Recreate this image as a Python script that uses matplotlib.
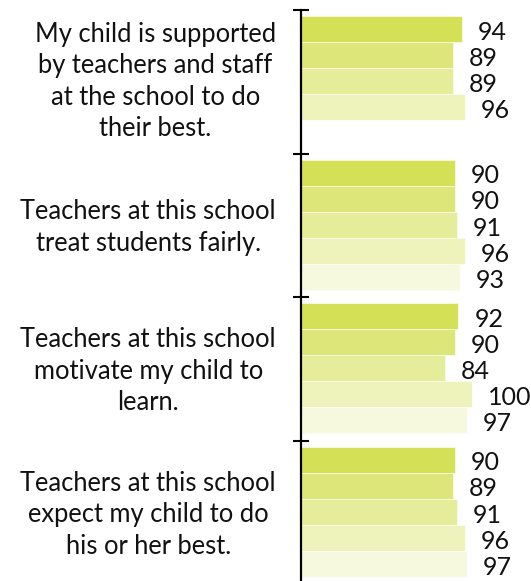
import matplotlib.pyplot as plt

# Вопросы анкеты и проценты положительных ответов
questions = ['My child is supported\nby teachers and staff\nat the school to do\ntheir best.',
             'Teachers at this school\ntreat students fairly.',
             'Teachers at this school\nmotivate my child to\nlearn.',
             'Teachers at this school\nexpect my child to do\nhis or her best.']
values_q1 = [94, 89, 89, 96]
values_q2 = [90, 90, 91, 96, 93]
values_q3 = [92, 90, 84, 100, 97]
values_q4 = [90, 89, 91, 96, 97]
all_values = [values_q1, values_q2, values_q3, values_q4]

# Цвета столбиков (от насыщенного к светлому)
bar_colors = ['#d4e157', '#dde779', '#e5ed9a', '#eef3bc', '#f6f9dd']

plt.rcParams['font.family'] = ['Lato', 'DejaVu Sans']

W, H = 531, 581
px = 1 / 100
fig = plt.figure(figsize=(W * px, H * px), dpi=100)
# Ось: левая граница на x=301 px, 0..100 занимает 171 px
ax = fig.add_axes([301 / W, (H - 584) / H, 171 / W, 574 / H])

bar_h = 0.1815
top_pad = 0.042
# небольшой сдвиг подписей вопросов по вертикали (в пунктах)
label_dy = [0.2, -1.8, -1.8, -1.8]

for g, vals in enumerate(all_values):
    for j, v in enumerate(vals):
        y = g + top_pad + j * bar_h + bar_h / 2
        ax.barh(y, v, height=bar_h, left=0, color=bar_colors[j],
                edgecolor='white', linewidth=0.4)
        ax.annotate(str(v), xy=(v, y), xytext=(11.5, -1), textcoords='offset points',
                    ha='left', va='center_baseline', fontsize=18, color='#111111',
                    annotation_clip=False)
    # Подпись вопроса слева от оси
    ax.annotate(questions[g], xy=(0, g + 0.5), xytext=(-18, label_dy[g]),
                textcoords='offset points', ha='right', va='center',
                multialignment='center', fontsize=18.4, color='#111111',
                linespacing=1.33, annotation_clip=False)

ax.set_xlim(0, 100)
ax.set_ylim(4, 0)

for s in ['top', 'right', 'bottom']:
    ax.spines[s].set_visible(False)
ax.spines['left'].set_linewidth(1.6)
ax.spines['left'].set_color('black')

ax.set_xticks([])
ax.set_yticks([0, 1, 2, 3, 4])
ax.set_yticklabels([])
ax.tick_params(axis='y', direction='inout', length=12, width=1.5, color='black')

fig.savefig('out.png', dpi=100)
plt.close()
